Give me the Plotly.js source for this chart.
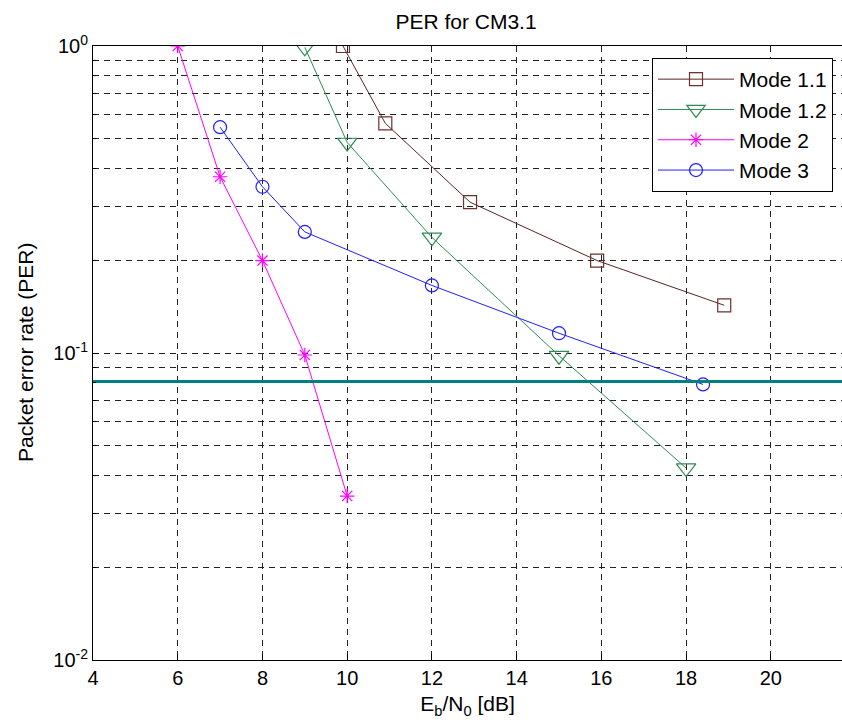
<!DOCTYPE html>
<html>
<head>
<meta charset="utf-8">
<script src="https://cdn.plot.ly/plotly-3.0.1.min.js"></script>
<style>html,body{margin:0;padding:0;background:#fff;}#chart{width:842px;height:726px;}</style>
</head>
<body>
<div id="chart"></div>
<script>
// Data
const mode11_x = [9.9, 10.9, 12.9, 15.9, 18.9];
const mode11_y = [1.0, 0.56, 0.31, 0.2, 0.143];

const mode12_x = [9, 10, 12, 15, 18];
const mode12_y = [0.99, 0.485, 0.238, 0.098, 0.0422];

const mode2_x = [6, 7, 8, 9, 10];
const mode2_y = [1.0, 0.375, 0.2, 0.0985, 0.0342];

const mode3_x = [7, 8, 9, 12, 15, 18.4];
const mode3_y = [0.544, 0.348, 0.248, 0.166, 0.116, 0.079];

const threshold = 0.0808;
const xRange = [4, 21.68];

const xTicks = [4, 6, 8, 10, 12, 14, 16, 18, 20];
const yTickVals = [0.01, 0.1, 1];
const yTickText = ['10<sup>-2</sup>', '10<sup>-1</sup>', '10<sup>0</sup>'];
const yMinorVals = [0.02, 0.03, 0.04, 0.05, 0.06, 0.07, 0.08, 0.09,
                    0.2, 0.3, 0.4, 0.5, 0.6, 0.7, 0.8, 0.9];

const font = 'Liberation Sans, Arial, Helvetica, sans-serif';

const traces = [
  {x: mode11_x, y: mode11_y, name: 'Mode 1.1', mode: 'lines+markers', type: 'scatter',
   line: {color: '#5a2424', width: 1},
   marker: {symbol: 'square-open', size: 13, color: '#6b3030', line: {width: 1.2}}},
  {x: mode12_x, y: mode12_y, name: 'Mode 1.2', mode: 'lines+markers', type: 'scatter',
   line: {color: '#2e8b57', width: 1},
   marker: {symbol: 'triangle-down-open', size: 17, color: '#2e8b57', line: {width: 1.2}}},
  {x: mode2_x, y: mode2_y, name: 'Mode 2', mode: 'lines+markers', type: 'scatter',
   line: {color: '#ff00ff', width: 1},
   marker: {symbol: 'asterisk-open', size: 12, color: '#ff00ff', line: {width: 1.2, color: '#ff00ff'}}},
  {x: mode3_x, y: mode3_y, name: 'Mode 3', mode: 'lines+markers', type: 'scatter',
   line: {color: '#1f1fff', width: 1},
   marker: {symbol: 'circle-open', size: 13, color: '#1f1fff', line: {width: 1.2}}},
  {x: xRange, y: [threshold, threshold], mode: 'lines', type: 'scatter', showlegend: false,
   hoverinfo: 'skip', line: {color: '#008080', width: 3}}
];

const layout = {
  width: 842, height: 726,
  paper_bgcolor: '#fff', plot_bgcolor: '#fff',
  margin: {l: 93, r: 0, t: 46, b: 66},
  font: {family: font, size: 21, color: '#000'},
  title: {text: 'PER for CM3.1', x: 466/842, xref: 'container', xanchor: 'center',
          y: 1 - 22/726, yref: 'container', yanchor: 'middle',
          font: {family: font, size: 21, color: '#000'}},
  xaxis: {
    range: xRange, tickvals: xTicks, ticktext: xTicks.map(String),
    showline: true, linecolor: '#000', linewidth: 1, mirror: true,
    ticks: 'inside', ticklen: 6, tickcolor: '#000',
    showgrid: true, gridcolor: '#222', griddash: '6px,5px', gridwidth: 1,
    zeroline: false, automargin: false,
    tickfont: {family: font, size: 20},
    title: {text: 'E<sub>b</sub>/N<sub>0</sub> [dB]', standoff: 8, font: {family: font, size: 21}}
  },
  yaxis: {
    type: 'log', range: [-2, 0],
    tickvals: yTickVals, ticktext: yTickText,
    showline: true, linecolor: '#000', linewidth: 1, mirror: false,
    ticks: 'inside', ticklen: 6, tickcolor: '#000',
    showgrid: true, gridcolor: '#222', griddash: '6px,5px', gridwidth: 1,
    minor: {tickvals: yMinorVals, showgrid: true, gridcolor: '#222', griddash: '6px,5px', gridwidth: 1,
            ticks: 'inside', ticklen: 3, tickcolor: '#000'},
    zeroline: false, automargin: false,
    tickfont: {family: font, size: 20}
  },
  annotations: [{
    text: 'Packet error rate (PER)', textangle: -90, showarrow: false,
    xref: 'paper', x: (25 - 93) / 749, xanchor: 'center',
    yref: 'paper', y: 0.5, yanchor: 'middle',
    font: {family: font, size: 21, color: '#000'}
  }],
  legend: {
    x: (652 - 93) / 749, xanchor: 'left', y: 1 - (58 - 46) / 614, yanchor: 'top',
    bgcolor: '#fff', bordercolor: '#000', borderwidth: 1,
    font: {family: font, size: 21}, itemwidth: 76, tracegroupgap: 0
  },
  showlegend: true
};

Plotly.newPlot('chart', traces, layout, {displayModeBar: false, staticPlot: true});
</script>
</body>
</html>
